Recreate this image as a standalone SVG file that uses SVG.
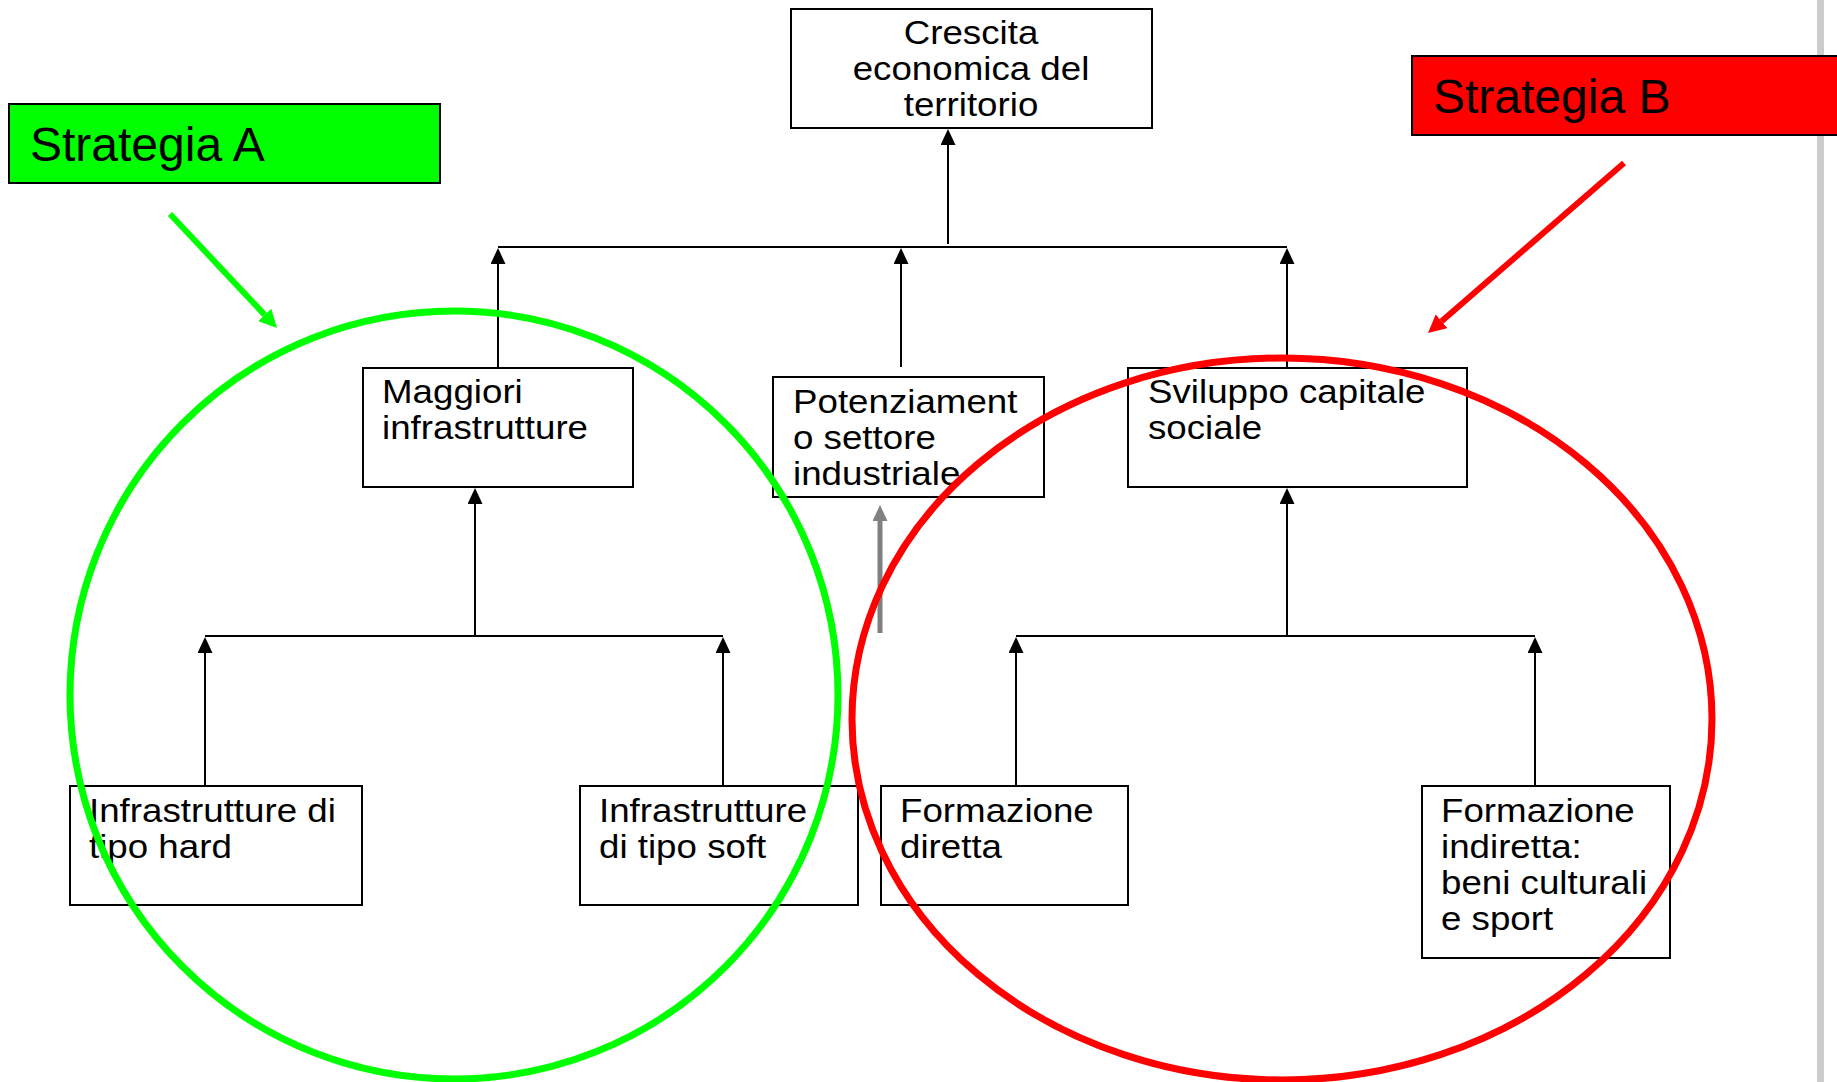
<svg xmlns="http://www.w3.org/2000/svg" width="1837" height="1082" viewBox="0 0 1837 1082">
<style>
.box{fill:#fff;stroke:#000;stroke-width:2}
.t{font-family:"Liberation Sans",Arial,sans-serif;font-size:32.5px;fill:#000}
.lab{font-family:"Liberation Sans",Arial,sans-serif;font-size:48px;fill:#000}
.c{stroke:#000;stroke-width:2;fill:none}
.ca{stroke:#000;stroke-width:2;fill:none;marker-end:url(#ah)}
</style>
<defs>
<marker id="ah" markerUnits="userSpaceOnUse" viewBox="0 0 16 15" refX="0" refY="7.5" markerWidth="16" markerHeight="15" orient="auto"><path d="M0,0 L16,7.5 L0,15 z" fill="#000"/></marker>
<marker id="ahg" markerUnits="userSpaceOnUse" viewBox="0 0 16 15" refX="0" refY="7.5" markerWidth="16" markerHeight="15" orient="auto"><path d="M0,0 L16,7.5 L0,15 z" fill="#808080"/></marker>
<marker id="ahgreen" markerUnits="userSpaceOnUse" viewBox="0 0 18 18" refX="0" refY="9" markerWidth="18" markerHeight="18" orient="auto"><path d="M0,0 L18,9 L0,18 z" fill="#00ff00"/></marker>
<marker id="ahred" markerUnits="userSpaceOnUse" viewBox="0 0 18 18" refX="0" refY="9" markerWidth="18" markerHeight="18" orient="auto"><path d="M0,0 L18,9 L0,18 z" fill="#ff0000"/></marker>
</defs>
<rect width="1837" height="1082" fill="#fff"/>
<rect x="1817" y="0" width="7" height="1082" fill="#cccccc"/>

<g id="connectors">
<line class="ca" x1="948" y1="244" x2="948" y2="145"/>
<line class="c" x1="498" y1="247" x2="1287" y2="247"/>
<line class="ca" x1="498" y1="367" x2="498" y2="264"/>
<line class="ca" x1="901" y1="367" x2="901" y2="264"/>
<line class="ca" x1="1287" y1="367" x2="1287" y2="264"/>
<line class="c" x1="205" y1="636" x2="723" y2="636"/>
<line class="ca" x1="475" y1="636" x2="475" y2="504"/>
<line class="ca" x1="205" y1="786" x2="205" y2="653"/>
<line class="ca" x1="723" y1="786" x2="723" y2="653"/>
<line class="c" x1="1016" y1="636" x2="1535" y2="636"/>
<line class="ca" x1="1287" y1="636" x2="1287" y2="504"/>
<line class="ca" x1="1016" y1="786" x2="1016" y2="653"/>
<line class="ca" x1="1535" y1="786" x2="1535" y2="653"/>
<line x1="880" y1="633" x2="880" y2="521" stroke="#808080" stroke-width="5" marker-end="url(#ahg)"/>
</g>

<g id="n-crescita">
<rect class="box" x="791" y="9" width="361" height="119"/>
<text class="t" text-anchor="middle" transform="translate(971,44) scale(1.13,1)"><tspan x="0" y="0">Crescita</tspan><tspan x="0" y="36">economica del</tspan><tspan x="0" y="72">territorio</tspan></text>
</g>
<g id="n-maggiori">
<rect class="box" x="363" y="368" width="270" height="119"/>
<text class="t" transform="translate(382,403) scale(1.13,1)"><tspan x="0" y="0">Maggiori</tspan><tspan x="0" y="36">infrastrutture</tspan></text>
</g>
<g id="n-potenziamento">
<rect class="box" x="773" y="377" width="271" height="120"/>
<text class="t" transform="translate(793,413) scale(1.13,1)"><tspan x="0" y="0">Potenziament</tspan><tspan x="0" y="36">o settore</tspan><tspan x="0" y="72">industriale</tspan></text>
</g>
<g id="n-sviluppo">
<rect class="box" x="1128" y="368" width="339" height="119"/>
<text class="t" transform="translate(1148,403) scale(1.13,1)"><tspan x="0" y="0">Sviluppo capitale</tspan><tspan x="0" y="36">sociale</tspan></text>
</g>
<g id="n-hard">
<rect class="box" x="70" y="786" width="292" height="119"/>
<text class="t" transform="translate(89,822) scale(1.13,1)"><tspan x="0" y="0">Infrastrutture di</tspan><tspan x="0" y="36">tipo hard</tspan></text>
</g>
<g id="n-soft">
<rect class="box" x="580" y="786" width="278" height="119"/>
<text class="t" transform="translate(599,822) scale(1.13,1)"><tspan x="0" y="0">Infrastrutture</tspan><tspan x="0" y="36">di tipo soft</tspan></text>
</g>
<g id="n-diretta">
<rect class="box" x="881" y="786" width="247" height="119"/>
<text class="t" transform="translate(900,822) scale(1.13,1)"><tspan x="0" y="0">Formazione</tspan><tspan x="0" y="36">diretta</tspan></text>
</g>
<g id="n-indiretta">
<rect class="box" x="1422" y="786" width="248" height="172"/>
<text class="t" transform="translate(1441,822) scale(1.13,1)"><tspan x="0" y="0">Formazione</tspan><tspan x="0" y="36">indiretta:</tspan><tspan x="0" y="72">beni culturali</tspan><tspan x="0" y="108">e sport</tspan></text>
</g>

<g id="strategia-a">
<rect x="9" y="104" width="431" height="79" fill="#00ff00" stroke="#000" stroke-width="2"/>
<text class="lab" x="30" y="161">Strategia A</text>
</g>
<g id="strategia-b">
<rect x="1412" y="56" width="440" height="79" fill="#ff0000" stroke="#000" stroke-width="2"/>
<text class="lab" x="1433" y="113">Strategia B</text>
</g>

<g id="groups">
<ellipse cx="454" cy="695" rx="384" ry="384" fill="none" stroke="#00ff00" stroke-width="7"/>
<ellipse cx="1282" cy="719" rx="430" ry="361" fill="none" stroke="#ff0000" stroke-width="7"/>
<line x1="170" y1="214" x2="264.7" y2="314.9" stroke="#00ff00" stroke-width="6" marker-end="url(#ahgreen)"/>
<line x1="1624" y1="163" x2="1441.6" y2="321.2" stroke="#ff0000" stroke-width="6" marker-end="url(#ahred)"/>
</g>
</svg>
